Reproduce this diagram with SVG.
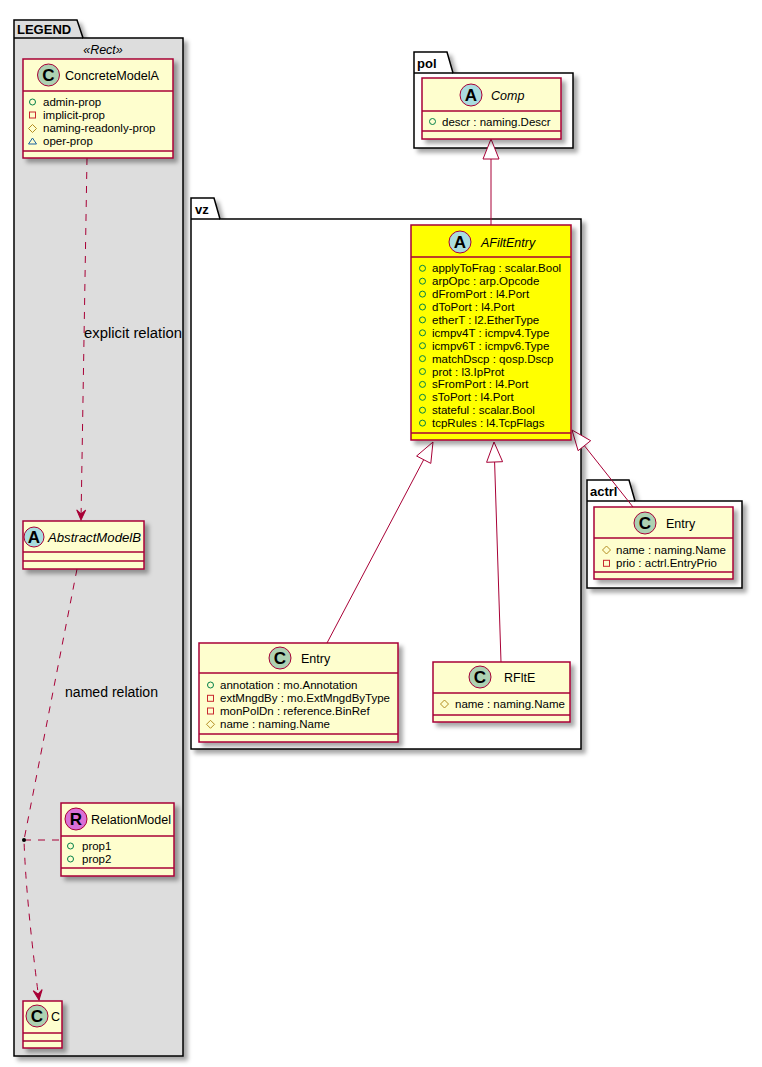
<svg xmlns="http://www.w3.org/2000/svg" width="762" height="1067" viewBox="0 0 762 1067">
<defs>
<filter id="sh" x="-10%" y="-10%" width="130%" height="130%">
<feDropShadow dx="4" dy="4" stdDeviation="2" flood-color="#000" flood-opacity="0.35"/>
</filter>
<marker id="open" viewBox="0 0 12 12" refX="11" refY="6" markerWidth="12" markerHeight="12" markerUnits="userSpaceOnUse" orient="auto">
<polygon points="11,6 1,1.5 5,6 1,10.5" fill="#A80036" stroke="#A80036" stroke-width="1"/>
</marker>
</defs>
<style>
text{font-family:"Liberation Sans",Arial,sans-serif;fill:#000}
.pk{fill:#fff;stroke:#000;stroke-width:1.5}
.pkl{fill:#DDDDDD;stroke:#000;stroke-width:1.5}
.pt{font-weight:bold;font-size:13px}
.box{fill:#FEFECE;stroke:#A80036;stroke-width:1.5}
.ybox{fill:#FFFF00;stroke:#A80036;stroke-width:1.5}
.sep{stroke:#A80036;stroke-width:1.5}
.cn{font-size:12.5px}
.it{font-style:italic}
.at{font-size:11.5px}
.cC{fill:#ADD1B2;stroke:#A80036;stroke-width:1}
.cA{fill:#A9DCDF;stroke:#A80036;stroke-width:1}
.cR{fill:#DA70D6;stroke:#A80036;stroke-width:1}
.lt{font-size:17px;font-weight:bold;text-anchor:middle}
.pub{fill:none;stroke:#038048;stroke-width:1}
.pri{fill:none;stroke:#C82930;stroke-width:1}
.pro{fill:none;stroke:#B38D22;stroke-width:1}
.pkg{fill:none;stroke:#1963A0;stroke-width:1}
.ln{stroke:#A80036;stroke-width:1;fill:none}
.dl{stroke:#A80036;stroke-width:1;fill:none;stroke-dasharray:7,7}
.tri{fill:#fff;stroke:#A80036;stroke-width:1}
.lab{font-size:14px}
</style>

<g id="pkg-legend">
<g filter="url(#sh)">
<polygon class="pkl" points="14,38 14,20 77,20 83,38 183,38 183,1056 14,1056"/>
</g>
<line x1="14" y1="38" x2="83" y2="38" stroke="#000" stroke-width="1.5"/>
<text class="pt" x="17" y="34">LEGEND</text>
<text class="cn it" x="103" y="54" text-anchor="middle">«Rect»</text>
</g>

<g id="pkg-pol">
<g filter="url(#sh)">
<polygon class="pk" points="414,73 414,52 447,52 453,73 573,73 573,148 414,148"/>
</g>
<line x1="414" y1="73" x2="453" y2="73" stroke="#000" stroke-width="1.5"/>
<text class="pt" x="417" y="68">pol</text>
</g>

<g id="pkg-vz">
<g filter="url(#sh)">
<polygon class="pk" points="191,219 191,198 214,198 220,219 581,219 581,749 191,749"/>
</g>
<line x1="191" y1="219" x2="220" y2="219" stroke="#000" stroke-width="1.5"/>
<text class="pt" x="195" y="214">vz</text>
</g>

<g id="pkg-actrl">
<g filter="url(#sh)">
<polygon class="pk" points="587,501 587,480 629,480 635,501 742,501 742,588 587,588"/>
</g>
<line x1="587" y1="501" x2="635" y2="501" stroke="#000" stroke-width="1.5"/>
<text class="pt" x="590" y="496">actrl</text>
</g>

<g id="connectors">
<line class="ln" x1="491" y1="159" x2="491" y2="225"/>
<polygon class="tri" points="491,139 483,159 499,159"/>
<line class="ln" x1="327" y1="643" x2="423.7" y2="459.7"/>
<polygon class="tri" points="433,442 416.6,456 430.8,463.4"/>
<line class="ln" x1="501" y1="662" x2="494.6" y2="462"/>
<polygon class="tri" points="494,442 486.6,462.3 502.6,461.7"/>
<line class="ln" x1="633" y1="507" x2="584.4" y2="445.7"/>
<polygon class="tri" points="572,430 578.1,450.7 590.7,440.7"/>
<path class="dl" d="M87,158 L81,520" marker-end="url(#open)"/>
<text class="lab" x="84" y="338" textLength="98" lengthAdjust="spacingAndGlyphs">explicit relation</text>
<path class="dl" d="M77,569 L24,840 Q26,900 39,1000" marker-end="url(#open)"/>
<text class="lab" x="65" y="697" textLength="93" lengthAdjust="spacingAndGlyphs">named relation</text>
<line class="dl" x1="24" y1="840" x2="61" y2="840"/>
<circle cx="24" cy="840" r="2" fill="#000"/>
</g>

<g id="ConcreteModelA">
<rect class="box" x="23" y="59" width="150" height="99" filter="url(#sh)"/>
<line class="sep" x1="23" y1="91" x2="173" y2="91"/>
<line class="sep" x1="23" y1="151" x2="173" y2="151"/>
<circle class="cC" cx="48.5" cy="75" r="11"/>
<text class="lt" x="48.5" y="81">C</text>
<text class="cn" x="65" y="80" textLength="94" lengthAdjust="spacingAndGlyphs">ConcreteModelA</text>
<circle class="pub" cx="32.5" cy="102" r="3"/>
<text class="at" x="43" y="106">admin-prop</text>
<rect class="pri" x="29.5" y="112" width="6" height="6"/>
<text class="at" x="43" y="119">implicit-prop</text>
<polygon class="pro" points="32.5,124.5 36.5,128.5 32.5,132.5 28.5,128.5"/>
<text class="at" x="43" y="132">naming-readonly-prop</text>
<polygon class="pkg" points="32.5,138 36.5,144 28.5,144"/>
<text class="at" x="43" y="145">oper-prop</text>
</g>

<g id="AbstractModelB">
<rect class="box" x="23" y="521" width="121" height="48" filter="url(#sh)"/>
<line class="sep" x1="23" y1="552" x2="144" y2="552"/>
<line class="sep" x1="23" y1="561" x2="144" y2="561"/>
<circle class="cA" cx="34" cy="537" r="10"/>
<text class="lt" x="34" y="543">A</text>
<text class="cn it" x="48" y="541.5" textLength="93" lengthAdjust="spacingAndGlyphs">AbstractModelB</text>
</g>

<g id="RelationModel">
<rect class="box" x="61" y="803" width="113" height="73" filter="url(#sh)"/>
<line class="sep" x1="61" y1="836" x2="174" y2="836"/>
<line class="sep" x1="61" y1="868" x2="174" y2="868"/>
<circle class="cR" cx="76" cy="819" r="11"/>
<text class="lt" x="76" y="825">R</text>
<text class="cn" x="91" y="823.5" textLength="80" lengthAdjust="spacingAndGlyphs">RelationModel</text>
<circle class="pub" cx="70.5" cy="846" r="3"/>
<text class="at" x="82" y="850">prop1</text>
<circle class="pub" cx="70.5" cy="859" r="3"/>
<text class="at" x="82" y="863">prop2</text>
</g>

<g id="C">
<rect class="box" x="23" y="1001" width="39" height="47" filter="url(#sh)"/>
<line class="sep" x1="23" y1="1033" x2="62" y2="1033"/>
<line class="sep" x1="23" y1="1041" x2="62" y2="1041"/>
<circle class="cC" cx="37" cy="1016" r="11"/>
<text class="lt" x="37" y="1022">C</text>
<text class="cn" x="51" y="1020.5">C</text>
</g>

<g id="Comp">
<rect class="box" x="422" y="78" width="139" height="61" filter="url(#sh)"/>
<line class="sep" x1="422" y1="111" x2="561" y2="111"/>
<line class="sep" x1="422" y1="131" x2="561" y2="131"/>
<circle class="cA" cx="471" cy="95" r="11"/>
<text class="lt" x="471" y="101">A</text>
<text class="cn it" x="491" y="100">Comp</text>
<circle class="pub" cx="432.5" cy="121.5" r="3"/>
<text class="at" x="442" y="125.5">descr : naming.Descr</text>
</g>

<g id="AFiltEntry">
<rect class="ybox" x="411" y="225" width="160" height="215" filter="url(#sh)"/>
<line class="sep" x1="411" y1="257" x2="571" y2="257"/>
<line class="sep" x1="411" y1="433" x2="571" y2="433"/>
<circle class="cA" cx="460" cy="242" r="11"/>
<text class="lt" x="460" y="248">A</text>
<text class="cn it" x="481" y="247">AFiltEntry</text>
<g>
<circle class="pub" cx="422.5" cy="268.3" r="3"/><text class="at" x="432" y="272.3">applyToFrag : scalar.Bool</text>
<circle class="pub" cx="422.5" cy="281.2" r="3"/><text class="at" x="432" y="285.2">arpOpc : arp.Opcode</text>
<circle class="pub" cx="422.5" cy="294.1" r="3"/><text class="at" x="432" y="298.1">dFromPort : l4.Port</text>
<circle class="pub" cx="422.5" cy="307" r="3"/><text class="at" x="432" y="311">dToPort : l4.Port</text>
<circle class="pub" cx="422.5" cy="319.9" r="3"/><text class="at" x="432" y="323.9">etherT : l2.EtherType</text>
<circle class="pub" cx="422.5" cy="332.8" r="3"/><text class="at" x="432" y="336.8">icmpv4T : icmpv4.Type</text>
<circle class="pub" cx="422.5" cy="345.7" r="3"/><text class="at" x="432" y="349.7">icmpv6T : icmpv6.Type</text>
<circle class="pub" cx="422.5" cy="358.6" r="3"/><text class="at" x="432" y="362.6">matchDscp : qosp.Dscp</text>
<circle class="pub" cx="422.5" cy="371.5" r="3"/><text class="at" x="432" y="375.5">prot : l3.IpProt</text>
<circle class="pub" cx="422.5" cy="384.4" r="3"/><text class="at" x="432" y="388.4">sFromPort : l4.Port</text>
<circle class="pub" cx="422.5" cy="397.3" r="3"/><text class="at" x="432" y="401.3">sToPort : l4.Port</text>
<circle class="pub" cx="422.5" cy="410.2" r="3"/><text class="at" x="432" y="414.2">stateful : scalar.Bool</text>
<circle class="pub" cx="422.5" cy="423.1" r="3"/><text class="at" x="432" y="427.1">tcpRules : l4.TcpFlags</text>
</g>
</g>

<g id="vz-Entry">
<rect class="box" x="199" y="643" width="199" height="99" filter="url(#sh)"/>
<line class="sep" x1="199" y1="673" x2="398" y2="673"/>
<line class="sep" x1="199" y1="734" x2="398" y2="734"/>
<circle class="cC" cx="280" cy="658" r="11"/>
<text class="lt" x="280" y="664">C</text>
<text class="cn" x="301" y="662.5">Entry</text>
<circle class="pub" cx="210.5" cy="685" r="3"/>
<text class="at" x="220" y="689">annotation : mo.Annotation</text>
<rect class="pri" x="207.5" y="695.3" width="6" height="6"/>
<text class="at" x="220" y="702.3">extMngdBy : mo.ExtMngdByType</text>
<rect class="pri" x="207.5" y="708" width="6" height="6"/>
<text class="at" x="220" y="715">monPolDn : reference.BinRef</text>
<polygon class="pro" points="210.5,720.3 214.5,724.3 210.5,728.3 206.5,724.3"/>
<text class="at" x="220" y="728.3">name : naming.Name</text>
</g>

<g id="RFltE">
<rect class="box" x="433" y="662" width="137" height="60" filter="url(#sh)"/>
<line class="sep" x1="433" y1="693" x2="570" y2="693"/>
<line class="sep" x1="433" y1="715" x2="570" y2="715"/>
<circle class="cC" cx="480" cy="677" r="11"/>
<text class="lt" x="480" y="683">C</text>
<text class="cn" x="504" y="681.5">RFltE</text>
<polygon class="pro" points="444.5,700 448.5,704 444.5,708 440.5,704"/>
<text class="at" x="455" y="708">name : naming.Name</text>
</g>

<g id="actrl-Entry">
<rect class="box" x="594" y="507" width="139" height="72" filter="url(#sh)"/>
<line class="sep" x1="594" y1="538" x2="733" y2="538"/>
<line class="sep" x1="594" y1="572" x2="733" y2="572"/>
<circle class="cC" cx="645" cy="523" r="11"/>
<text class="lt" x="645" y="529">C</text>
<text class="cn" x="666" y="527.5">Entry</text>
<polygon class="pro" points="606.5,546 610.5,550 606.5,554 602.5,550"/>
<text class="at" x="616" y="554">name : naming.Name</text>
<rect class="pri" x="603.5" y="560.3" width="6" height="6"/>
<text class="at" x="616" y="567.3">prio : actrl.EntryPrio</text>
</g>
</svg>
